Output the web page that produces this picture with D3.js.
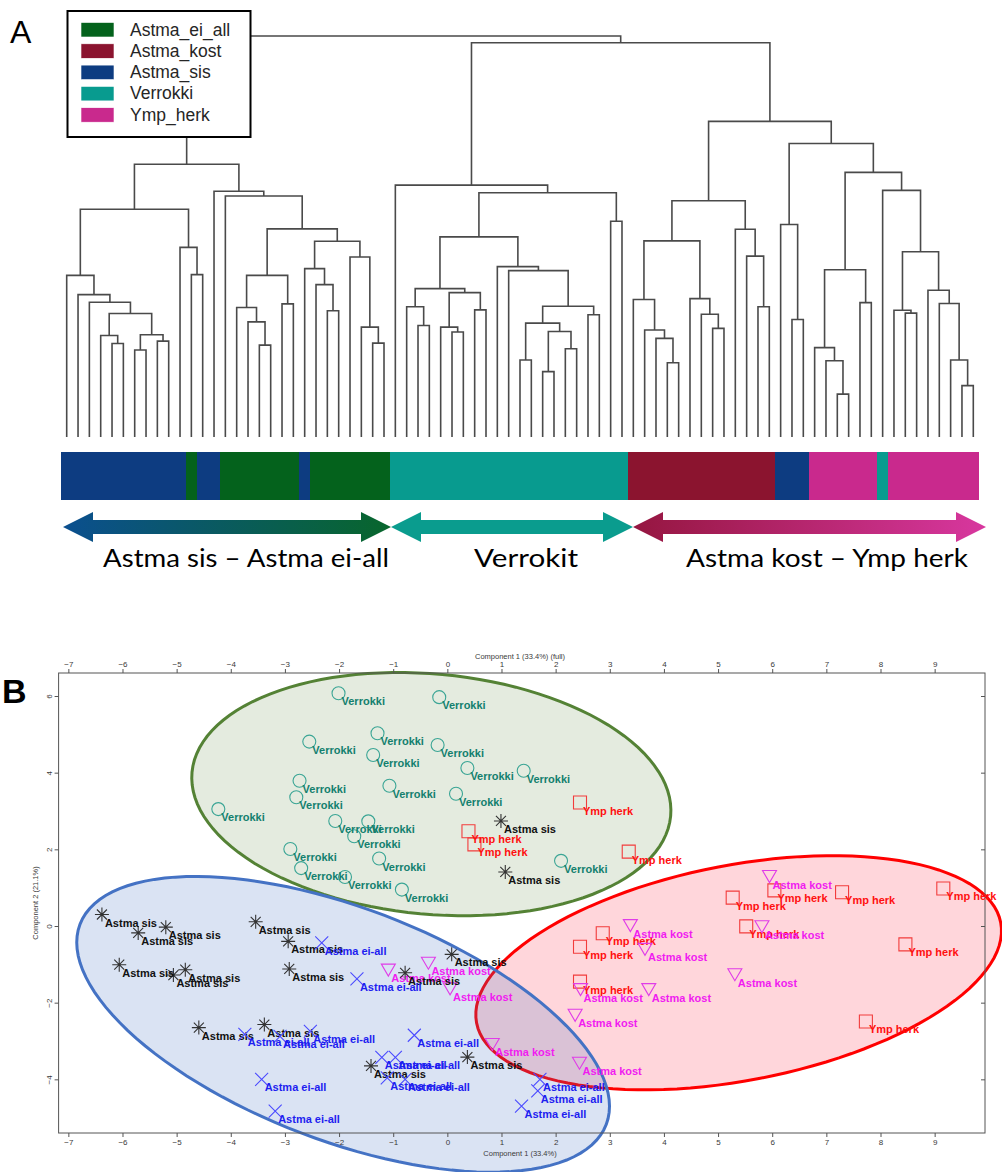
<!DOCTYPE html>
<html><head><meta charset="utf-8">
<script src="https://cdn.jsdelivr.net/npm/d3@7"></script>
<style>body{margin:0;background:#fff}svg{display:block}</style>
</head><body><div id="chart"></div>
<script>
// ================= PANEL A DATA =================
const legendNames = ["Astma_ei_all","Astma_kost","Astma_sis","Verrokki","Ymp_herk"];
const legendCodes = ["E","K","S","V","Y"];
// leaf groups in dendrogram order (81 leaves)
const leafGroup = ["SSSSSSSSSSS","E","SS","EEEEEEE","S","EEEEEEE",
  "VVVVVVVVVVVVVVVVVVVVV","KKKKKKKKKKKKK","SSS","YYYYYY","V","YYYYYYYY"].join("").split("");
// merges: [id, left child, right child, height]; numbers are leaf indices
const merges = [
 ["A1",4,5,2.33],["A2",3,"A1",2.53],["A3",6,7,2.17],["A4",8,9,2.39],["A5","A3","A4",2.55],
 ["A6","A2","A5",3.08],["A7",2,"A6",3.36],["A8",1,"A7",3.55],["A9",0,"A8",4.03],
 ["A10",11,12,4.05],["A11",10,"A10",4.73],["A12","A9","A11",5.68],
 ["B1",17,18,2.29],["B2",16,"B1",2.87],["B3",15,"B2",3.23],["B4",19,20,3.32],["B5","B3","B4",4.03],
 ["B6",23,24,3.15],["B7",22,"B6",3.80],["B8",21,"B7",4.20],["B9",27,28,2.34],["B10",26,"B9",2.74],
 ["B11",25,"B10",4.49],["B12","B8","B11",4.88],["B13","B5","B12",5.19],["B14",14,"B13",6.01],
 ["B15",13,"B14",6.13],["L","A12","B15",6.80],
 ["C1",31,32,2.78],["C2",30,"C1",3.25],["C3",34,35,2.62],["C4",33,"C3",2.74],["C5",36,37,3.17],
 ["C6","C4","C5",3.60],["C7","C2","C6",3.70],["C8",40,41,1.92],["C9",42,43,1.63],["C10",44,45,2.20],
 ["C11","C9","C10",2.63],["C12","C8","C11",2.84],["C13",46,47,3.05],["C14","C12","C13",3.26],
 ["C15",39,"C14",4.15],["C16",38,"C15",4.25],["C17","C7","C16",4.99],["C18",48,49,5.38],
 ["C19","C17","C18",6.09],["C20",29,"C19",6.28],
 ["D1",53,54,1.85],["D2",52,"D1",2.46],["D3",51,"D2",2.67],["D4",50,"D3",3.43],["D5",57,58,2.71],
 ["D6",56,"D5",3.06],["D7",55,"D6",3.45],["D8","D4","D7",4.89],["D9",61,62,3.25],["D10",60,"D9",4.51],
 ["D11",59,"D10",5.18],["D12","D8","D11",5.89],
 ["E1",64,65,2.93],["E2",63,"E1",5.30],["E3",68,69,1.07],["E4",67,"E3",1.90],["E5",66,"E4",2.23],
 ["E6",70,71,3.35],["E7","E5","E6",4.17],["E8",74,75,3.09],["E9",73,"E8",3.16],["E10",79,80,1.28],
 ["E11",78,"E10",1.92],["E12",77,"E11",3.33],["E13",76,"E12",3.66],["E14","E9","E13",4.62],
 ["E15",72,"E14",6.15],["E16","E7","E15",6.60],["E17","E2","E16",7.32],
 ["R","D12","E17",7.87],["M","C20","R",9.83],["root","L","M",10.0]
];
const arrowLabels = ["Astma sis \u2013 Astma ei-all","Verrokit","Astma kost \u2013 Ymp herk"];

// ================= PANEL B DATA =================
const xTicks = [-7,-6,-5,-4,-3,-2,-1,0,1,2,3,4,5,6,7,8,9];
const yTicks = [-4,-2,0,2,4,6];
const verrokki = [[-2.01,6.07],[-0.15,5.97],[-1.29,5.03],[-2.55,4.81],[-0.18,4.72],[-1.37,4.46],
 [0.37,4.12],[-2.73,3.79],[-1.07,3.66],[0.16,3.45],[-2.79,3.36],[-4.23,3.05],[-2.07,2.74],[-1.46,2.73],
 [-1.72,2.34],[-2.90,2.01],[-1.26,1.76],[-2.70,1.51],[-1.89,1.28],[-0.84,0.95],[1.41,4.05],[2.10,1.70]];
const astmaSis = [[-6.38,0.30],[-5.71,-0.18],[-5.20,-0.03],[-3.54,0.11],[-2.94,-0.40],[-6.06,-1.01],
 [-4.84,-1.14],[-5.06,-1.28],[-2.92,-1.12],[-4.59,-2.65],[-3.38,-2.57],[-1.41,-3.65],[0.08,-0.74],
 [-0.78,-1.22],[0.37,-3.42],[0.99,2.74],[1.07,1.41]];
const ympHerk = [[2.45,3.22],[3.35,1.94],[0.39,2.47],[0.50,2.13],[5.27,0.74],[6.04,0.93],[7.29,0.88],
 [9.16,0.98],[2.87,-0.19],[2.45,-0.54],[5.52,-0.01],[8.46,-0.48],[2.45,-1.45],[7.73,-2.49]];
const astmaKost = [[5.95,1.29],[3.38,0.01],[3.65,-0.61],[5.81,-0.02],[5.31,-1.27],[2.46,-1.66],
 [3.72,-1.66],[2.36,-2.33],[0.83,-3.09],[2.44,-3.58],[-1.09,-1.15],[-0.35,-0.97],[0.05,-1.64]];
const astmaEiAll = [[-2.32,-0.44],[-1.67,-1.38],[-3.74,-2.83],[-3.09,-2.88],[-2.53,-2.75],[-0.61,-2.85],
 [-3.43,-4.00],[-3.18,-4.83],[-1.21,-3.43],[-0.96,-3.43],[-1.11,-3.96],[-0.78,-4.00],[1.71,-4.00],
 [1.67,-4.30],[1.37,-4.70]];
// ellipses in data units: centre, semi-axis vector u, semi-axis vector v
const ellipseVerrokki = {c:[-0.296,3.44], u:[4.42,-0.573], v:[-0.203,-3.12]};
const ellipseKostYmp  = {c:[5.38,-1.22], u:[4.84,1.31], v:[0.375,-2.76]};
const ellipseSisEi    = {c:[-1.925,-2.565], u:[4.86,-2.61], v:[-0.765,-2.84]};

// ================= DRAW =================
const W=1002,H=1172;
const svg=d3.select("#chart").append("svg").attr("width",W).attr("height",H)
  .style("font-family","Arial, 'Liberation Sans', sans-serif");

// ---- Panel A: dendrogram ----
const leafX=d3.scaleLinear().domain([0,80]).range([66.7,973.3]);
const hY=d3.scaleLinear().domain([0,10]).range([437,36]);
const nodes={};
const pos=c=>typeof c==="number"?{x:leafX(c),h:0}:nodes[c];
const dg=svg.append("g").attr("fill","none").attr("stroke","#4a4a4a").attr("stroke-width",1.6);
merges.forEach(([id,a,b,h])=>{
  const pa=pos(a),pb=pos(b);
  nodes[id]={x:(pa.x+pb.x)/2,h};
  dg.append("path").attr("d",`M${pa.x},${hY(pa.h)}V${hY(h)}H${pb.x}V${hY(pb.h)}`);
});

// colour bar: consecutive leaves of the same group merged into one block
const cmap={E:"#04621c",K:"#8b142f",S:"#0d3c81",V:"#089b8f",Y:"#c9298d"};
const step=leafX(1)-leafX(0);
const runs=[];
leafGroup.forEach((g,i)=>{
  if(runs.length && runs[runs.length-1].g===g) runs[runs.length-1].end=i;
  else runs.push({g,start:i,end:i});
});
svg.append("g").attr("shape-rendering","crispEdges").selectAll("rect").data(runs).join("rect")
  .attr("x",d=>leafX(d.start)-step/2).attr("width",d=>leafX(d.end)-leafX(d.start)+step)
  .attr("y",452).attr("height",48).attr("fill",d=>cmap[d.g]);

// legend
const lg=svg.append("g");
lg.append("rect").attr("x",67.5).attr("y",11).attr("width",183).attr("height",126)
  .attr("fill","#fff").attr("stroke","#000").attr("stroke-width",2);
legendNames.forEach((n,i)=>{
  const y=22.5+i*21.3;
  lg.append("rect").attr("x",81).attr("y",y).attr("width",33).attr("height",14.5)
    .attr("fill",cmap[legendCodes[i]]).attr("stroke","#fff").attr("stroke-width",0.6);
  lg.append("text").attr("x",130).attr("y",y+13).attr("font-size",17.5).attr("fill","#262626").text(n);
});

svg.append("text").attr("x",10).attr("y",43).attr("font-size",32).attr("fill","#000").text("A");
svg.append("text").attr("x",2).attr("y",703).attr("font-size",34).attr("font-weight","bold").attr("fill","#000").text("B");

// arrows
const defs=svg.append("defs");
function grad(id,c0,c1){
  const g=defs.append("linearGradient").attr("id",id).attr("x1","0%").attr("x2","100%");
  g.append("stop").attr("offset","0%").attr("stop-color",c0);
  g.append("stop").attr("offset","100%").attr("stop-color",c1);
}
grad("g1","#0b4f8f","#08662c");
grad("g2","#0a9c8e","#0a9c8e");
grad("g3","#951640","#d8379f");
function arrowPath(x0,x1,cy){
  const hl=30,bh=7,hh=15;
  return `M${x0},${cy}L${x0+hl},${cy-hh}L${x0+hl},${cy-bh}L${x1-hl},${cy-bh}L${x1-hl},${cy-hh}L${x1},${cy}`+
         `L${x1-hl},${cy+hh}L${x1-hl},${cy+bh}L${x0+hl},${cy+bh}L${x0+hl},${cy+hh}Z`;
}
const arrowSpan=[[63,391,"g1"],[391,633,"g2"],[633,986,"g3"]];
arrowSpan.forEach(([a,b,g])=>svg.append("path").attr("d",arrowPath(a,b,527)).attr("fill",`url(#${g})`));
const arrowTextX=[246,526,827];
const arrowTextW=[286,104,282];
arrowLabels.forEach((t,i)=>svg.append("text").attr("x",arrowTextX[i]-arrowTextW[i]/2).attr("y",567)
  .attr("font-family","Lato, 'Open Sans', sans-serif")
  .attr("textLength",arrowTextW[i]).attr("lengthAdjust","spacingAndGlyphs")
  .attr("font-size",25.5).attr("fill","#000").text(t));

// ---- Panel B: scatter ----
const xS=d3.scaleLinear().domain([-7.18,9.93]).range([58.6,985]);
const yS=d3.scaleLinear().domain([-5.4,6.6]).range([1133,673]);

// ellipses
function ellPath(e){
  const pts=d3.range(0,361,3).map(a=>{const t=a*Math.PI/180;
    return [xS(e.c[0]+e.u[0]*Math.cos(t)+e.v[0]*Math.sin(t)), yS(e.c[1]+e.u[1]*Math.cos(t)+e.v[1]*Math.sin(t))];});
  return d3.line().curve(d3.curveLinearClosed)(pts);
}
const eg=svg.append("g");
eg.append("path").attr("d",ellPath(ellipseVerrokki)).attr("fill","rgba(84,130,53,0.16)").attr("stroke","#548235").attr("stroke-width",3);
eg.append("path").attr("d",ellPath(ellipseKostYmp)).attr("fill","rgba(255,0,30,0.16)").attr("stroke","#ff0000").attr("stroke-width",3);
eg.append("path").attr("d",ellPath(ellipseSisEi)).attr("fill","rgba(68,114,196,0.2)").attr("stroke","#4472c4").attr("stroke-width",3);

// frame & axes
const axColor="#555";
svg.append("rect").attr("x",xS.range()[0]).attr("y",673).attr("width",xS.range()[1]-xS.range()[0])
  .attr("height",1133-673).attr("fill","none").attr("stroke",axColor).attr("stroke-width",1);
function styleAxis(g){
  g.select(".domain").remove();
  g.selectAll("line").attr("stroke",axColor);
  g.selectAll("text").attr("fill","#3a3a3a").attr("font-size",8).attr("font-family","Arial, sans-serif");
}
svg.append("g").attr("transform","translate(0,673)")
  .call(d3.axisTop(xS).tickValues(xTicks).tickSize(4).tickPadding(2)).call(styleAxis);
svg.append("g").attr("transform","translate(0,1133)")
  .call(d3.axisBottom(xS).tickValues(xTicks).tickSize(4).tickPadding(2)).call(styleAxis);
const ly=svg.append("g").attr("transform",`translate(${xS.range()[0]},0)`)
  .call(d3.axisLeft(yS).tickValues(yTicks).tickSize(4)).call(styleAxis);
ly.selectAll("text").attr("x",0).attr("dy",0).attr("text-anchor","middle")
  .attr("transform","translate(-7,0) rotate(-90)");
svg.append("g").attr("transform",`translate(${xS.range()[1]},0)`)
  .call(d3.axisLeft(yS).tickValues(yTicks).tickSize(4).tickFormat("")).call(styleAxis)
  .selectAll("line").attr("x2",-4);

svg.append("text").attr("x",520).attr("y",659).attr("text-anchor","middle").attr("font-size",7.5).attr("fill","#3a3a3a").text("Component 1 (33.4%) (full)");
svg.append("text").attr("x",520).attr("y",1156).attr("text-anchor","middle").attr("font-size",7.5).attr("fill","#3a3a3a").text("Component 1 (33.4%)");
svg.append("text").attr("transform","translate(38,903) rotate(-90)").attr("text-anchor","middle").attr("font-size",7.5).attr("fill","#3a3a3a").text("Component 2 (21.1%)");

// markers
const markerPath={
  circle:"M6.5,0A6.5,6.5 0 1,1 -6.5,0A6.5,6.5 0 1,1 6.5,0Z",
  square:"M-6.5,-6.5H6.5V6.5H-6.5Z",
  tri:"M-7,-6H7L0,6Z",
  x:"M-6.5,-6.5L6.5,6.5M-6.5,6.5L6.5,-6.5",
  star:"M0,-7V7M-7,0H7M-5,-5L5,5M-5,5L5,-5"
};
const series=[
  {data:verrokki,label:"Verrokki",m:"circle",mc:"#3aa595",tc:"#13806e"},
  {data:ympHerk,label:"Ymp herk",m:"square",mc:"#f23c3c",tc:"#ff1010"},
  {data:astmaKost,label:"Astma kost",m:"tri",mc:"#e03ce8",tc:"#f01cf0"},
  {data:astmaSis,label:"Astma sis",m:"star",mc:"#333",tc:"#111"},
  {data:astmaEiAll,label:"Astma ei-all",m:"x",mc:"#4a4aff",tc:"#1e1ef0"}
];
const pg=svg.append("g");
series.forEach(s=>{
  const g=pg.append("g");
  g.selectAll("path").data(s.data).join("path")
    .attr("transform",d=>`translate(${xS(d[0])},${yS(d[1])})`)
    .attr("d",markerPath[s.m]).attr("fill","none").attr("stroke",s.mc).attr("stroke-width",1.1);
  g.selectAll("text").data(s.data).join("text")
    .attr("x",d=>xS(d[0])+3).attr("y",d=>yS(d[1])+12)
    .attr("font-size",11).attr("font-weight","bold").attr("fill",s.tc).text(s.label);
});
</script>
</body></html>
